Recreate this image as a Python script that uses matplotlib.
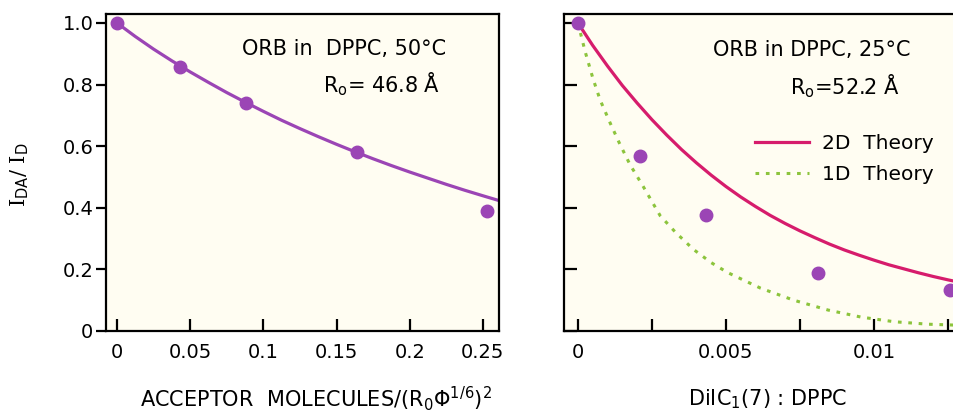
import matplotlib
matplotlib.use("Agg")
import matplotlib.pyplot as plt


plt.rcParams['font.family'] = ['DejaVu Sans']
plt.rcParams['mathtext.fontset'] = 'dejavusans'


# left panel: ORB in DPPC, 50 C
left_pts_x = [0.0, 0.043, 0.088, 0.164, 0.253]
left_pts_y = [1.0, 0.858, 0.740, 0.582, 0.390]
left_fit_x = [0.0, 0.0125, 0.025, 0.0375, 0.05, 0.0625, 0.075, 0.0875, 0.1, 0.1125, 0.125,
              0.1375, 0.15, 0.1625, 0.175, 0.1875, 0.2, 0.2125, 0.225, 0.2375, 0.25, 0.262]
left_fit_y = [1.0, 0.956, 0.915, 0.877, 0.841, 0.807, 0.774, 0.743, 0.713, 0.684, 0.657,
              0.631, 0.606, 0.582, 0.559, 0.537, 0.516, 0.496, 0.476, 0.457, 0.439, 0.422]
left_xticks = [0, 0.05, 0.1, 0.15, 0.2, 0.25]
left_xticklabels = ['0', '0.05', '0.1', '0.15', '0.2', '0.25']
yticks = [0, 0.2, 0.4, 0.6, 0.8, 1.0]
yticklabels = ['0', '0.2', '0.4', '0.6', '0.8', '1.0']

# right panel: ORB in DPPC, 25 C
right_pts_x = [0.0, 0.0021, 0.00434, 0.0081, 0.01258]
right_pts_y = [1.0, 0.568, 0.377, 0.187, 0.132]
theory2d_x = [0, 0.0005, 0.001, 0.0015, 0.002, 0.0025, 0.003, 0.0035, 0.004, 0.0045, 0.005,
              0.0055, 0.006, 0.0065, 0.007, 0.0075, 0.008, 0.0085, 0.009, 0.0095, 0.010,
              0.0105, 0.011, 0.0115, 0.012, 0.0125, 0.0131]
theory2d_y = [1.0, 0.927, 0.86, 0.797, 0.74, 0.686, 0.636, 0.589, 0.546, 0.506, 0.469,
              0.435, 0.404, 0.375, 0.349, 0.325, 0.303, 0.282, 0.263, 0.246, 0.23,
              0.215, 0.202, 0.189, 0.177, 0.166, 0.154]
theory1d_x = [0, 0.00025, 0.00051, 0.00075, 0.00109, 0.0014, 0.00176, 0.0022, 0.00278, 0.0033,
              0.0039, 0.0045, 0.00505, 0.00617, 0.00729, 0.00845, 0.00957, 0.01069, 0.01184, 0.0131]
theory1d_y = [1.0, 0.905, 0.819, 0.75, 0.675, 0.61, 0.54, 0.47, 0.374, 0.32,
              0.265, 0.222, 0.19, 0.139, 0.1, 0.068, 0.045, 0.03, 0.022, 0.018]
right_xticks = [0, 0.0025, 0.005, 0.0075, 0.01, 0.0125]
right_xticklabels = ['0', '', '0.005', '', '0.01', '']

purple = '#9b45b5'
magenta = '#d61c6c'
green = '#8cc43c'
cream = '#fffdf2'

W, H = 954, 417
fig = plt.figure(figsize=(W / 100, H / 100), dpi=100)


def fx(px):
    return px / W


def fy(py):
    return 1 - py / H


ax1 = fig.add_axes([fx(106), fy(331), fx(499 - 106), (331 - 14) / H])
ax2 = fig.add_axes([fx(564), fy(331), fx(964 - 564), (331 - 14) / H])

for ax in (ax1, ax2):
    ax.set_facecolor(cream)
    for s in ax.spines.values():
        s.set_linewidth(1.6)
    ax.set_ylim(0, 1.029)
    ax.set_yticks(yticks)
    ax.tick_params(axis='x', direction='in', length=9, width=1.6, pad=9, labelsize=14)

# left panel
ax1.plot(left_fit_x, left_fit_y, color=purple, lw=2.3, solid_joinstyle='round')
ax1.plot(left_pts_x, left_pts_y, 'o', color=purple, ms=9, clip_on=False, zorder=5)
ax1.set_xlim(-0.0075, 0.261)
ax1.set_xticks(left_xticks)
ax1.set_xticklabels(left_xticklabels)
ax1.set_yticklabels(yticklabels)
ax1.tick_params(axis='y', direction='out', length=7, width=1.6, pad=2, labelsize=14)

# right panel
ax2.plot(theory2d_x, theory2d_y, color=magenta, lw=2.3, solid_joinstyle='round', label='2D  Theory')
ax2.plot(theory1d_x, theory1d_y, color=green, lw=2.2, ls=(0, (1.2, 2.2)), label='1D  Theory')
ax2.plot(right_pts_x, right_pts_y, 'o', color=purple, ms=9, clip_on=False, zorder=5)
ax2.set_xlim(-0.00047, 0.01304)
ax2.set_xticks(right_xticks)
ax2.set_xticklabels(right_xticklabels)
ax2.set_yticklabels([])
ax2.tick_params(axis='y', direction='in', length=9, width=1.6)

ax2.legend(loc='center left', bbox_to_anchor=(fx(737), fy(159)), bbox_transform=fig.transFigure,
           frameon=False, fontsize=14.5, handlelength=2.7, handletextpad=0.6, labelspacing=0.6)

# annotations
fig.text(fx(344), fy(49), 'ORB in  DPPC, 50°C', fontsize=15, ha='center', va='center')
fig.text(fx(382), fy(84), r'R$_\mathrm{o}$= 46.8 Å', fontsize=15, ha='center', va='center')
fig.text(fx(812), fy(50), 'ORB in DPPC, 25°C', fontsize=15, ha='center', va='center')
fig.text(fx(845), fy(86), r'R$_\mathrm{o}$=52.2 Å', fontsize=15, ha='center', va='center')

# axis labels
fig.text(fx(316), fy(399), r'ACCEPTOR  MOLECULES/(R$_\mathrm{0}\Phi^{1/6}$)$^2$',
         fontsize=15, ha='center', va='center')
fig.text(fx(768), fy(399), r'DiIC$_1$(7) : DPPC', fontsize=15, ha='center', va='center')
fig.text(fx(20), fy(175), r'I$_{\mathrm{DA}}$/ I$_{\mathrm{D}}$', fontsize=15,
         family=['DejaVu Serif'], rotation=90, ha='center', va='center')

fig.savefig('out.png', dpi=100)
